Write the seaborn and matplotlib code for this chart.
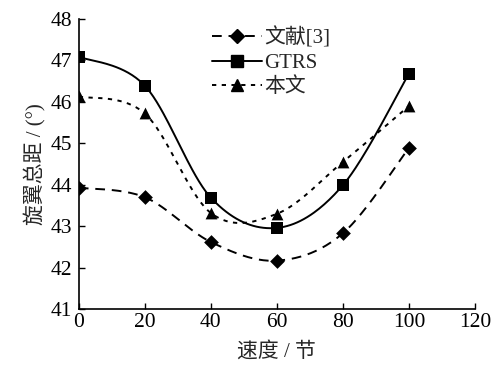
import numpy as np
import pandas as pd
import matplotlib
matplotlib.use('Agg')
import matplotlib.pyplot as plt
import seaborn as sns
from matplotlib.lines import Line2D

# dados
speed = [0, 20, 40, 60, 80, 100]
ref3 = [43.93, 43.70, 42.62, 42.17, 42.83, 44.89]
gtrs = [47.09, 46.39, 43.69, 42.96, 43.99, 46.68]
ours = [46.13, 45.72, 43.32, 43.30, 44.55, 45.90]
series_names = ['文献[3]', 'GTRS', '本文']
xticks = [0, 20, 40, 60, 80, 100, 120]
yticks = [41, 42, 43, 44, 45, 46, 47, 48]


def smooth(x, y, n=40):
    # curva suavizada (Bezier tipo Catmull-Rom, como no Excel)
    x = np.asarray(x, float)
    y = np.asarray(y, float)
    px = np.concatenate([[x[0]], x, [x[-1]]])
    py = np.concatenate([[y[0]], y, [y[-1]]])
    xs, ys = [], []
    t = np.linspace(0, 1, n)
    for i in range(1, len(px) - 2):
        p0 = np.array([px[i], py[i]])
        p3 = np.array([px[i + 1], py[i + 1]])
        c1 = p0 + (np.array([px[i + 1], py[i + 1]]) - np.array([px[i - 1], py[i - 1]])) / 6
        c2 = p3 - (np.array([px[i + 2], py[i + 2]]) - np.array([px[i], py[i]])) / 6
        b = ((1 - t) ** 3)[:, None] * p0 + (3 * (1 - t) ** 2 * t)[:, None] * c1 \
            + (3 * (1 - t) * t ** 2)[:, None] * c2 + (t ** 3)[:, None] * p3
        xs.extend(b[:, 0])
        ys.extend(b[:, 1])
    return np.array(xs), np.array(ys)


sns.set_style('ticks')
plt.rcParams['font.family'] = ['Liberation Serif', 'Noto Sans CJK SC']
plt.rcParams['axes.unicode_minus'] = False

fig = plt.figure(figsize=(5.02, 3.65), dpi=100)
ax = fig.add_axes([0.157, 0.153, 0.789, 0.795])

styles = [
    dict(ls=(0, (5, 3.5)), marker='D', ms=7.5),
    dict(ls='-', marker='s', ms=8.5),
    dict(ls=(0, (2.2, 2.8)), marker='^', ms=8.5),
]
handles = []
for name, vals, st in zip(series_names, [ref3, gtrs, ours], styles):
    sx, sy = smooth(speed, vals)
    df_s = pd.DataFrame({'x': sx, 'y': sy})
    sns.lineplot(data=df_s, x='x', y='y', ax=ax, color='black', lw=1.4,
                 linestyle=st['ls'], sort=False, estimator=None)
    df_p = pd.DataFrame({'x': speed, 'y': vals})
    sns.scatterplot(data=df_p, x='x', y='y', ax=ax, color='black', marker=st['marker'],
                    s=st['ms'] ** 2, edgecolor='black', linewidth=0, zorder=5)
    handles.append(Line2D([], [], color='black', lw=1.4, linestyle=st['ls'],
                          marker=st['marker'], markersize=st['ms']))

ax.set_xlim(0, 120)
ax.set_ylim(41, 48)
ax.set_xticks(xticks)
ax.set_yticks(yticks)
ax.tick_params(direction='in', length=4, width=1, labelsize=15.5, colors='black')
ax.tick_params(axis='x', pad=3)
ax.tick_params(axis='y', pad=5)
for s in ['left', 'bottom']:
    ax.spines[s].set_linewidth(1.2)
    ax.spines[s].set_color('black')
sns.despine(ax=ax)
ax.set_xlabel('速度 / 节', fontsize=15, labelpad=7)
ax.set_ylabel('旋翼总距 / (°)', fontsize=15, labelpad=3)

ax.legend(handles, series_names, loc='upper left', bbox_to_anchor=(0.315, 1.0),
          frameon=False, fontsize=15, handlelength=2.4, handletextpad=0.1,
          labelspacing=0.22, borderaxespad=0)

fig.savefig('out.png', dpi=100)
